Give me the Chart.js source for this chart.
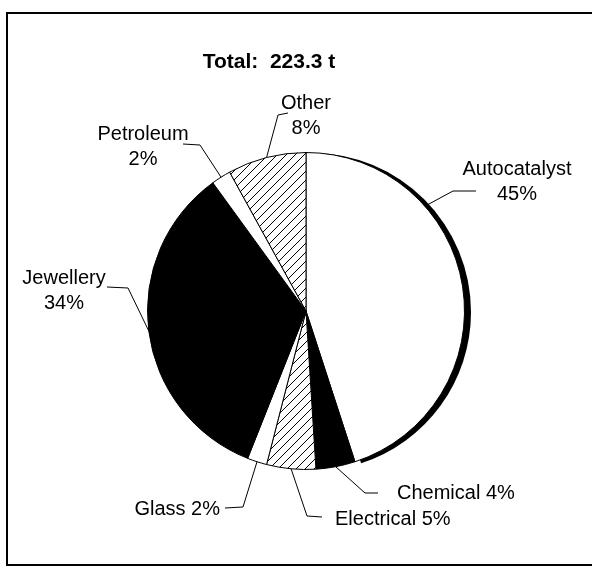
<!DOCTYPE html>
<html>
<head>
<meta charset="utf-8">
<script src="https://cdn.jsdelivr.net/npm/chart.js@4"></script>
<style>
  html, body { margin: 0; padding: 0; background: #fff; }
  canvas { display: block; }
</style>
</head>
<body>
<canvas id="pie" width="592" height="567"></canvas>
<script>
// Platinum demand by use (share of total, %)
const categories = ['Autocatalyst', 'Chemical', 'Electrical', 'Glass', 'Jewellery', 'Petroleum', 'Other'];
const shares = [45, 4, 5, 2, 34, 2, 8];
const totalLabel = 'Total:  223.3 t';

// fill style per slice: plain white, solid black or hatched
const fillKinds = ['white', 'black', 'hatch', 'white', 'black', 'white', 'hatch'];

// label placement, offsets from the pie centre
// anchor = where along the slice the leader touches the rim (0..1)
const labelLayout = [
    { anchor: 0.3, elbow: [147, -120], end: [170, -120], text: [211, -130], align: 'center', split: true },
    { anchor: 0.5, elbow: [59, 182], end: [72, 182], text: [91, 182], align: 'left', split: false },
    { anchor: 0.5, elbow: [1, 205], end: [16, 206], text: [29, 208], align: 'left', split: false },
    { anchor: 0.5, elbow: [-63, 196], end: [-81, 197], text: [-86, 198], align: 'right', split: false },
    { anchor: 0.5, elbow: [-178, -23], end: [-199, -24], text: [-242, -21], align: 'center', split: true },
    { anchor: 0.5, elbow: [-106, -166], end: [-123, -167], text: [-163, -165], align: 'center', split: true },
    { anchor: 0.5, elbow: [-28, -196], end: [-18, -198], text: [0, -196], align: 'center', split: true }
];

function makeHatch() {
    const size = 9;
    const c = document.createElement('canvas');
    c.width = size;
    c.height = size;
    const g = c.getContext('2d');
    g.fillStyle = '#fff';
    g.fillRect(0, 0, size, size);
    g.strokeStyle = '#000';
    g.lineWidth = 1;
    g.beginPath();
    g.moveTo(-1, size + 1);
    g.lineTo(size + 1, -1);
    g.stroke();
    return g.createPattern(c, 'repeat');
}

const hatch = makeHatch();
const colors = fillKinds.map(k => k === 'hatch' ? hatch : (k === 'black' ? '#000' : '#fff'));

// black drop shadow behind the first slice only
const shadowPlugin = {
    id: 'sliceShadow',
    beforeDatasetsDraw(chart) {
        const arc = chart.getDatasetMeta(0).data[0];
        if (!arc) return;
        const p = arc.getProps(['x', 'y', 'startAngle', 'endAngle', 'outerRadius'], true);
        const ctx = chart.ctx;
        const dx = 6, dy = 1;
        ctx.save();
        ctx.fillStyle = '#000';
        ctx.beginPath();
        ctx.moveTo(p.x + dx, p.y + dy);
        ctx.arc(p.x + dx, p.y + dy, p.outerRadius + 0.5, p.startAngle, p.endAngle);
        ctx.closePath();
        ctx.fill();
        ctx.restore();
    }
};

// frame, title, leader lines and labels
const annotationPlugin = {
    id: 'annotations',
    afterDraw(chart) {
        const ctx = chart.ctx;
        const arcs = chart.getDatasetMeta(0).data;
        const cx = arcs[0].x, cy = arcs[0].y;

        ctx.save();
        ctx.strokeStyle = '#000';
        ctx.lineWidth = 2;
        ctx.strokeRect(7, 13, 600, 552);

        ctx.fillStyle = '#000';
        ctx.font = 'bold 21px "Liberation Sans", Arial, sans-serif';
        ctx.textAlign = 'center';
        ctx.textBaseline = 'middle';
        ctx.fillText(totalLabel, 269, 62);

        ctx.font = '20px "Liberation Sans", Arial, sans-serif';
        ctx.lineWidth = 1;
        arcs.forEach((arc, i) => {
            const lay = labelLayout[i];
            const p = arc.getProps(['startAngle', 'endAngle', 'outerRadius'], true);
            const a = p.startAngle + lay.anchor * (p.endAngle - p.startAngle);
            ctx.beginPath();
            ctx.moveTo(cx + p.outerRadius * Math.cos(a), cy + p.outerRadius * Math.sin(a));
            ctx.lineTo(cx + lay.elbow[0], cy + lay.elbow[1]);
            ctx.lineTo(cx + lay.end[0], cy + lay.end[1]);
            ctx.stroke();

            const pct = shares[i] + '%';
            ctx.textAlign = lay.align;
            const tx = cx + lay.text[0], ty = cy + lay.text[1];
            if (lay.split) {
                ctx.fillText(categories[i], tx, ty - 12);
                ctx.fillText(pct, tx, ty + 13);
            } else {
                ctx.fillText(categories[i] + ' ' + pct, tx, ty);
            }
        });
        ctx.restore();
    }
};

new Chart(document.getElementById('pie'), {
    type: 'pie',
    data: {
        labels: categories,
        datasets: [{
            data: shares,
            backgroundColor: colors,
            borderColor: '#000',
            borderWidth: 1
        }]
    },
    options: {
        responsive: false,
        animation: false,
        events: [],
        layout: {
            padding: { left: 147, right: 127, top: 152, bottom: 97 }
        },
        plugins: {
            legend: { display: false },
            tooltip: { enabled: false },
            title: { display: false }
        }
    },
    plugins: [shadowPlugin, annotationPlugin]
});
</script>
</body>
</html>
